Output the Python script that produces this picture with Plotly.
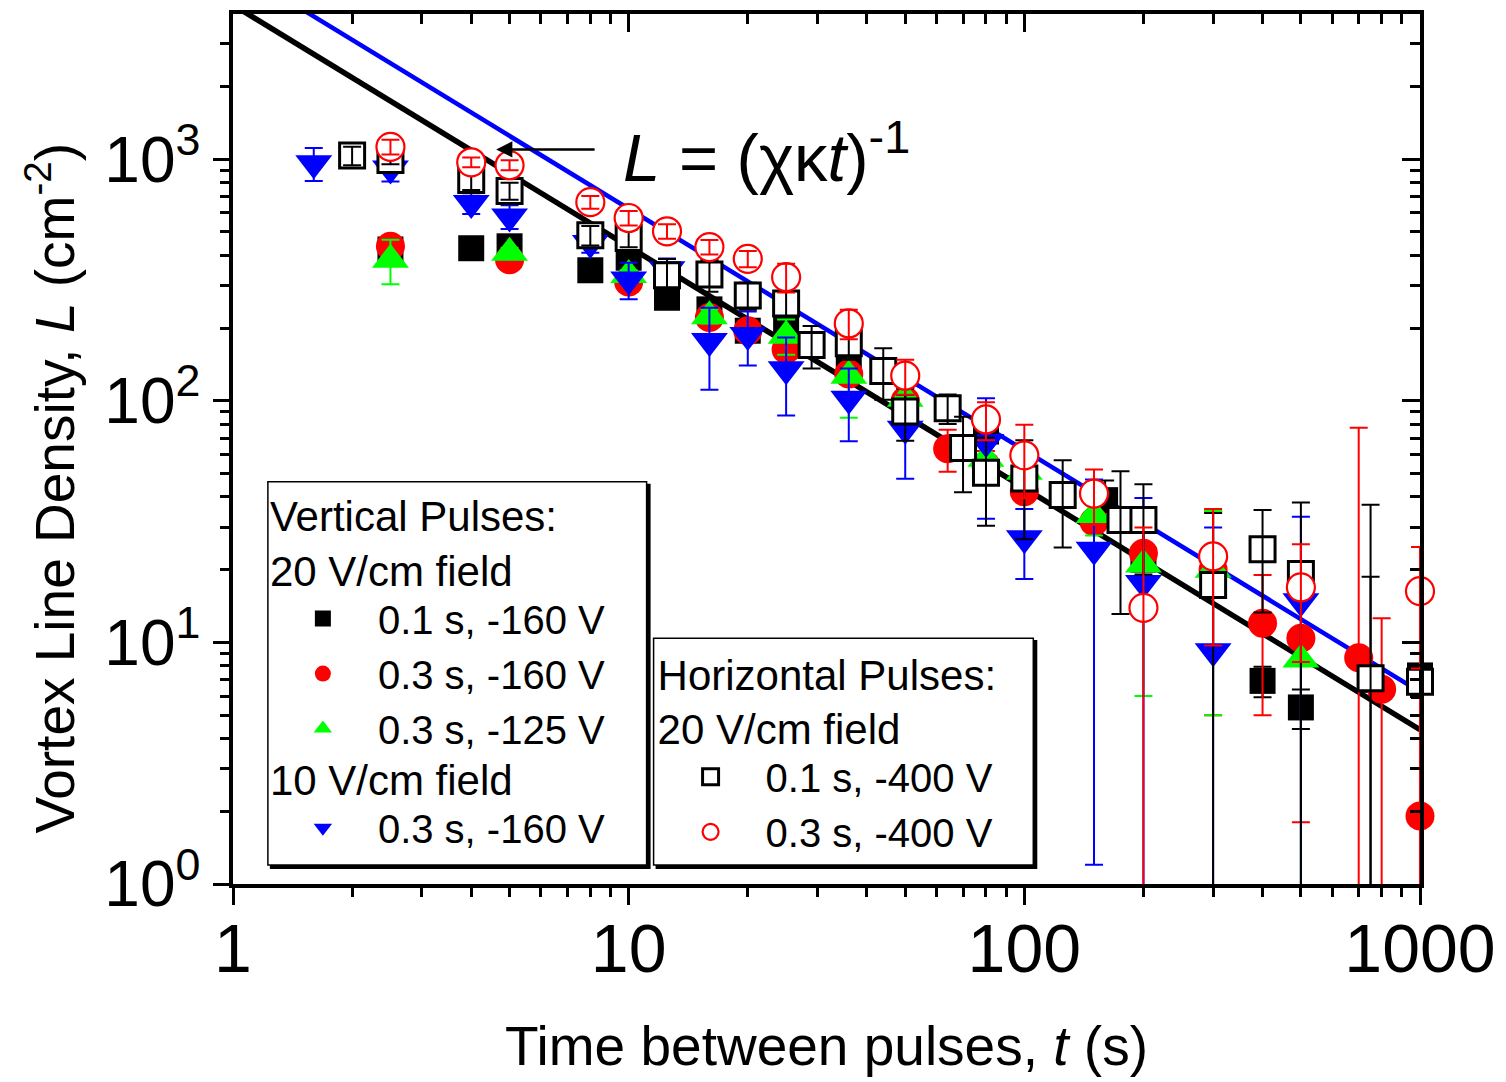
import plotly.graph_objects as go

FONT = "Liberation Sans, Arial, sans-serif"

# ---------------- data ----------------
# Vertical pulses, 20 V/cm field, 0.1 s, -160 V  (filled black squares)
t_v01_160 = [2.5, 4, 5, 8, 10, 12.5, 16, 20, 25, 36, 50, 80, 160, 200, 400, 500, 750, 1000]
L_v01_160 = [423, 428, 436, 347, 391, 267, 239, 195, 204, 135, 93, 74.6, 38.8, 22, 6.93, 5.38, 7.0, 7.3]
e_v01_160 = [20, 20, 20, 15, 20, 12, 12, 10, 10, 8, 6, 8, 8, 8, 1, 1, 11.7, 0.5]

# Vertical pulses, 20 V/cm field, 0.3 s, -160 V  (filled red circles)
t_v03_160 = [2.5, 5, 10, 16, 20, 25, 36, 50, 64, 80, 100, 150, 200, 300, 400, 500, 700, 800, 1000]
L_v03_160 = [436, 384, 310, 221, 195, 163, 129, 100, 63.3, 54, 42, 31.6, 23.4, 20, 12.0, 10.4, 8.64, 6.40, 1.91]
e_v03_160 = [20, 20, 15, 15, 10, 12, 10, 8, 12.5, 8, 4, 6, 8, 15, 7, 8.6, 68.8, 6.2, 5.7]

# Vertical pulses, 20 V/cm field, 0.3 s, -125 V  (filled green up-triangles)
t_v03_125 = [2.5, 5, 10, 16, 25, 36, 50, 80, 100, 150, 200, 300, 500]
L_v03_125 = [384, 410, 332, 224, 186, 127, 102, 57.6, 50.8, 33.7, 21.0, 20, 8.5]
e_v03_125 = [80, 20, 15, 15, 31, 42, 15, 10, 8, 6, 15, 15, 12.8]

# Vertical pulses, 10 V/cm field, 0.3 s, -160 V  (filled blue down-triangles)
t_v10_160 = [1.6, 2.5, 4, 5, 8, 10, 12.5, 16, 20, 25, 36, 50, 80, 100, 150, 200, 300, 500]
L_v10_160 = [962, 916, 658, 579, 450, 318, 350, 177, 187, 135, 102, 76.6, 67.5, 27, 24.2, 17.6, 9.2, 14.8]
e_v10_160 = [150, 108, 65, 65, 40, 55, 38, 66, 47, 48, 34, 29, 35, 8.7, 23, 22, 20.7, 18.3]

# Horizontal pulses, 20 V/cm field, 0.1 s, -400 V  (open black squares)
t_h01_400 = [2, 2.5, 4, 5, 8, 10, 12.5, 16, 20, 25, 29, 36, 44, 50, 64, 70, 80, 100, 125, 175, 200, 300, 400, 500, 750, 1000]
L_h01_400 = [1035, 993, 821, 739, 484, 472, 331, 333, 273, 253, 170, 173, 133, 90.3, 93.2, 63.8, 50.4, 47.7, 40.7, 32.1, 32.1, 17.3, 24.3, 19.2, 7.1, 6.88]
e_h01_400 = [90, 40, 75, 60, 45, 40, 55, 50, 35, 30, 34, 25, 32, 22, 13, 22, 20, 21, 16, 19, 13, 17, 11, 18.7, 30, 1]

# Horizontal pulses, 20 V/cm field, 0.3 s, -400 V  (open red circles)
t_h03_400 = [2.5, 4, 5, 8, 10, 12.5, 16, 20, 25, 36, 50, 80, 100, 150, 200, 300, 500, 1000]
L_h03_400 = [1125, 971, 944, 664, 571, 503, 433, 387, 325, 209, 127, 83.7, 59.5, 41.3, 13.9, 22.7, 16.9, 16.3]
e_h03_400 = [80, 45, 45, 40, 40, 35, 30, 30, 44, 29, 21, 15, 20, 10.6, 16, 13, 8.6, 8.5]

# Fits L = (chi*kappa*t)^-1  ->  L = [1/(chi*kappa)] / t
t_fit = [1, 1000]
inv_chikappa_black = 4350.0
inv_chikappa_blue = 6240.0

# axis ticks
x_ticks = [1, 10, 100, 1000]
x_ticktext = ["1", "10", "100", "1000"]
y_ticks = [1, 10, 100, 1000]
y_ticktext = ["10<sup>0</sup>", "10<sup>1</sup>", "10<sup>2</sup>", "10<sup>3</sup>"]
x_minor = [m * 10 ** k for k in range(0, 3) for m in range(2, 10)]
y_minor = [m * 10 ** k for k in range(0, 4) for m in range(2, 10) if m * 10 ** k < 4000]

# plot-area geometry in pixels (for placing legend boxes / labels)
W, H = 1506, 1082
ML, MR, MT, MB = 233, 82, 10, 198
PW, PH = W - ML - MR, H - MT - MB


def px(xp):
    return (xp - ML) / PW


def py(yp):
    return (H - MB - yp) / PH


fig = go.Figure()

# fit lines
fig.add_trace(go.Scatter(x=t_fit, y=[inv_chikappa_black / t for t in t_fit], mode="lines",
                         line=dict(color="black", width=5.5), showlegend=False, hoverinfo="skip"))
fig.add_trace(go.Scatter(x=t_fit, y=[inv_chikappa_blue / t for t in t_fit], mode="lines",
                         line=dict(color="#0000FF", width=4.5), showlegend=False, hoverinfo="skip"))


def err_trace(t, L, err, color):
    fig.add_trace(go.Scatter(
        x=t, y=L, mode="markers", showlegend=False, hoverinfo="skip",
        marker=dict(size=1, color="rgba(0,0,0,0)"),
        error_y=dict(type="data", array=err, color=color, thickness=2, width=9),
    ))


def mark_trace(t, L, name, symbol, color, fill, size, lw, legend):
    fig.add_trace(go.Scatter(
        x=t, y=L, mode="markers", name=name, legend=legend, cliponaxis=False,
        marker=dict(symbol=symbol, size=size, color=fill, line=dict(color=color, width=lw)),
    ))


# filled series: error bars below markers
err_trace(t_v01_160, L_v01_160, e_v01_160, "black")
mark_trace(t_v01_160, L_v01_160, "0.1 s, -160 V", "square", "black", "black", 26, 0, "legend")
err_trace(t_v03_160, L_v03_160, e_v03_160, "#FF0000")
mark_trace(t_v03_160, L_v03_160, "0.3 s, -160 V", "circle", "#FF0000", "#FF0000", 29, 0, "legend")
err_trace(t_v03_125, L_v03_125, e_v03_125, "#00FF00")
mark_trace(t_v03_125, L_v03_125, "0.3 s, -125 V", "triangle-up", "#00FF00", "#00FF00", 32, 0, "legend")
err_trace(t_v10_160, L_v10_160, e_v10_160, "#0000FF")
mark_trace(t_v10_160, L_v10_160, "0.3 s, -160 V", "triangle-down", "#0000FF", "#0000FF", 32, 0, "legend3")
# open series: white-filled markers with their error bars drawn over them
mark_trace(t_h01_400, L_h01_400, "0.1 s, -400 V", "square", "black", "white", 25, 3, "legend2")
err_trace(t_h01_400, L_h01_400, e_h01_400, "black")
mark_trace(t_h03_400, L_h03_400, "0.3 s, -400 V", "circle", "#FF0000", "white", 28, 2.2, "legend2")
err_trace(t_h03_400, L_h03_400, e_h03_400, "#FF0000")

# helper trace for the mirrored (inside) ticks on top/right
fig.add_trace(go.Scatter(x=[None], y=[None], xaxis="x2", yaxis="y2", showlegend=False, hoverinfo="skip"))

XR = [0, 3]
YR = [0, 3.601]

axis_common = dict(type="log", showgrid=False, zeroline=False, linecolor="black",
                   tickcolor="black", tickwidth=3)

leg_common = dict(xanchor="left", yanchor="top", bgcolor="rgba(0,0,0,0)", borderwidth=0,
                  font=dict(size=40, family=FONT), itemwidth=100, tracegroupgap=0)

fig.update_layout(
    width=W, height=H,
    margin=dict(l=ML, r=MR, t=MT, b=MB),
    paper_bgcolor="white", plot_bgcolor="white",
    font=dict(family=FONT, color="black"),
    xaxis=dict(**axis_common, range=XR, showline=True, linewidth=3.5, mirror=True,
               ticks="outside", ticklen=17, tickvals=x_ticks, ticktext=x_ticktext,
               tickfont=dict(size=68, family=FONT), ticklabelstandoff=-14,
               minor=dict(tickmode="array", tickvals=x_minor, ticks="outside", ticklen=9,
                          tickwidth=2.5, tickcolor="black"),
               title=dict(text="Time between pulses, <i>t</i> (s)", font=dict(size=55, family=FONT),
                          standoff=42)),
    yaxis=dict(**axis_common, range=YR, showline=True, linewidth=3.5, mirror=True,
               ticks="outside", ticklen=16, tickvals=y_ticks, ticktext=y_ticktext,
               tickfont=dict(size=64, family=FONT),
               minor=dict(tickmode="array", tickvals=y_minor, ticks="outside", ticklen=9,
                          tickwidth=2.5, tickcolor="black")),
    xaxis2=dict(**axis_common, range=XR, overlaying="x", side="top", anchor="y2",
                showline=False, ticks="inside", ticklen=18, tickvals=x_ticks, showticklabels=False,
                minor=dict(tickmode="array", tickvals=x_minor, ticks="inside", ticklen=10,
                           tickwidth=2.5, tickcolor="black")),
    yaxis2=dict(**axis_common, range=YR, overlaying="y", side="right", anchor="x2",
                showline=False, ticks="inside", ticklen=18, tickvals=y_ticks, showticklabels=False,
                minor=dict(tickmode="array", tickvals=y_minor, ticks="inside", ticklen=10,
                           tickwidth=2.5, tickcolor="black")),
    legend=dict(**leg_common, x=px(268), y=py(475),
                title=dict(text="Vertical Pulses:<br>20 V/cm field", font=dict(size=42, family=FONT))),
    legend3=dict(**leg_common, x=px(268), y=py(740),
                 title=dict(text="10 V/cm field", font=dict(size=42, family=FONT))),
    legend2=dict(**leg_common, x=px(657), y=py(634),
                 title=dict(text="Horizontal Pulses:<br>20 V/cm field", font=dict(size=42, family=FONT))),
    showlegend=True,
)

# legend frames (with a small drop shadow, as in the original)
for (x0, y0, x1, y1) in [(268, 480, 648, 865), (655, 637, 1036, 865)]:
    fig.add_shape(type="rect", xref="paper", yref="paper", layer="above",
                  x0=px(x0 + 3), x1=px(x1 + 3), y0=py(y1 + 3), y1=py(y0 + 3),
                  line=dict(color="black", width=2), fillcolor="black")
    fig.add_shape(type="rect", xref="paper", yref="paper", layer="above",
                  x0=px(x0), x1=px(x1), y0=py(y1), y1=py(y0),
                  line=dict(color="black", width=1.5), fillcolor="white")

# y-axis title (placed as in the original, slightly below centre)
fig.add_annotation(text="Vortex Line Density, <i>L</i> (cm<sup>-2</sup>)", xref="paper", yref="paper",
                   x=px(50), y=py(487), textangle=-90, showarrow=False,
                   xanchor="center", yanchor="middle", font=dict(size=55, family=FONT))

# fit label and arrow
fig.add_annotation(text="<i>L</i> = (χκ<i>t</i>)<sup>-1</sup>", xref="paper", yref="paper",
                   x=px(622), y=py(150), xanchor="left", yanchor="middle", showarrow=False,
                   font=dict(size=67, family=FONT))
fig.add_annotation(text="", xref="paper", yref="paper", x=px(497), y=py(146), ax=100, ay=0,
                   showarrow=True, arrowhead=2, arrowsize=1.3, arrowwidth=2.5, arrowcolor="black")

fig.write_html("out.html")
